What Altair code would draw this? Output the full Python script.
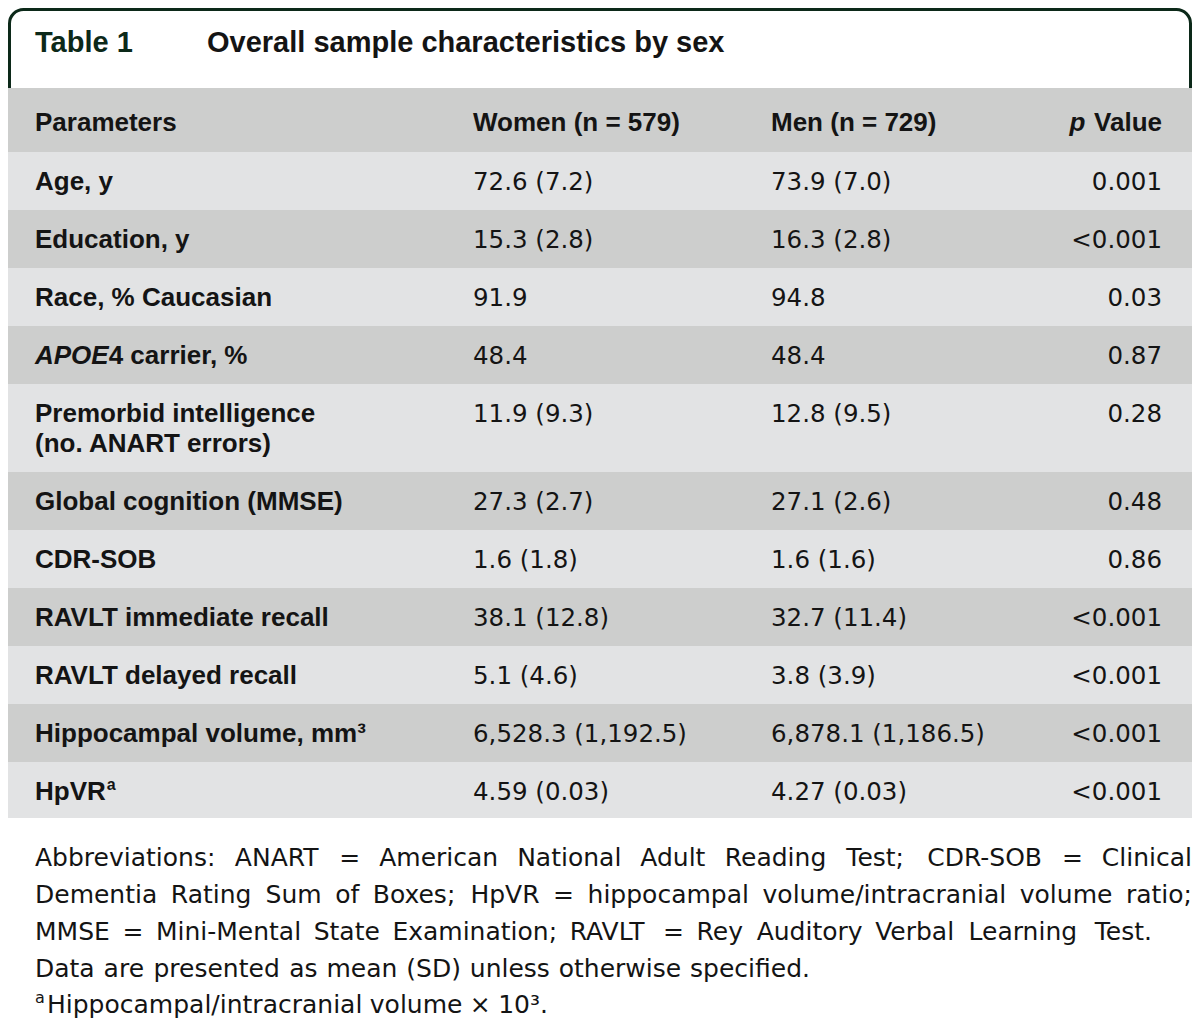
import altair as alt
import pandas as pd

# ---------------- data ----------------
title_label = "Table 1"
title_text = "Overall sample characteristics by sex"
col_headers = ["Parameters", "Women (n = 579)", "Men (n = 729)"]
p_header = ("p", " Value")

params = [
    "Age, y",
    "Education, y",
    "Race, % Caucasian",
    "APOE4 carrier, %",
    "Premorbid intelligence\n(no. ANART errors)",
    "Global cognition (MMSE)",
    "CDR-SOB",
    "RAVLT immediate recall",
    "RAVLT delayed recall",
    "Hippocampal volume, mm³",
    "HpVR",
]
italic_prefix = {3: "APOE"}
superscript = {10: "a"}

women = ["72.6 (7.2)", "15.3 (2.8)", "91.9", "48.4", "11.9 (9.3)", "27.3 (2.7)",
         "1.6 (1.8)", "38.1 (12.8)", "5.1 (4.6)", "6,528.3 (1,192.5)", "4.59 (0.03)"]
men = ["73.9 (7.0)", "16.3 (2.8)", "94.8", "48.4", "12.8 (9.5)", "27.1 (2.6)",
       "1.6 (1.6)", "32.7 (11.4)", "3.8 (3.9)", "6,878.1 (1,186.5)", "4.27 (0.03)"]
pvals = ["0.001", "<0.001", "0.03", "0.87", "0.28", "0.48", "0.86",
         "<0.001", "<0.001", "<0.001", "<0.001"]

footnote_lines = [
    "Abbreviations: ANART = American National Adult Reading Test; CDR-SOB = Clinical",
    "Dementia Rating Sum of Boxes; HpVR = hippocampal volume/intracranial volume ratio;",
    "MMSE = Mini-Mental State Examination; RAVLT = Rey Auditory Verbal Learning Test.",
    "Data are presented as mean (SD) unless otherwise specified.",
    "Hippocampal/intracranial volume × 10³.",
]
footnote_sup = "a"

# ---------------- layout / style ----------------
# chart pixel = reference pixel - 8 (page margin), so positions line up 1:1
W, H = 1184, 1012
XS = alt.Scale(domain=[8, 8 + W], range=[0, W], nice=False, zero=False)
YS = alt.Scale(domain=[8, 8 + H], range=[0, H], nice=False, zero=False)

X_LABEL, X_WOMEN, X_MEN, X_P = 35, 473, 771, 1162
HEADER_TOP, HEADER_BOTTOM = 88, 152
ROW_H, LINE_H = 58, 30
BASE_OFF = 38
HEAD_BASE = 131
TITLE_BASE = 52
FOOT_BASES = [866, 903, 940, 977, 1013]
FOOT_RIGHT = [1192, 1192, 1152, 810, 548]
FOOT_LEFT = [35, 35, 35, 35, 47]

BOLD_FONT = "Liberation Sans"
REG_FONT = "DejaVu Sans"
TEXT_COL = "#141414"
GREEN = "#0c2919"
LIGHT = "#e2e3e4"
DARK = "#cdcecd"

LBL_SIZE = 26
VAL_SIZE = 24.5
FOOT_SIZE = 25
TITLE_SIZE = 29

ARIAL_BOLD = {'A': 722, 'P': 667, 'O': 778, 'E': 667, 'H': 722, 'p': 611, 'V': 667,
              'R': 722, ' ': 278, 'a': 556, 'l': 278, 'u': 611, 'e': 556}
DEJAVU = dict(zip("ABCDEFGHIJKLMNOPQRSTUVWXYZ",
                  [684, 686, 698, 770, 632, 575, 775, 752, 295, 295, 656, 557, 863, 748, 787,
                   603, 787, 695, 635, 611, 732, 684, 989, 685, 611, 685]))
DEJAVU.update(zip("abcdefghijklmnopqrstuvwxyz",
                  [613, 635, 550, 635, 615, 352, 635, 634, 278, 278, 579, 278, 974, 634, 612,
                   635, 635, 411, 521, 392, 634, 592, 818, 592, 592, 525]))
DEJAVU.update({d: 636 for d in "0123456789"})
DEJAVU.update({' ': 318, '.': 318, ',': 318, ':': 337, ';': 337, '(': 390, ')': 390,
               '/': 337, '-': 361, '=': 838, '×': 838, '³': 405})


def w_bold(s, size=LBL_SIZE):
    return sum(ARIAL_BOLD.get(c, 600) for c in s) * size / 1000.0


def w_reg(s, size=FOOT_SIZE):
    return sum(DEJAVU.get(c, 620) for c in s) * size / 1000.0


# rows geometry
row_rec = []
top = HEADER_BOTTOM
for i, lab in enumerate(params):
    nl = lab.count("\n") + 1
    h = ROW_H + LINE_H * (nl - 1)
    row_rec.append({"x": 0, "x2": 1200, "y": top, "y2": min(top + h, 818),
                    "fill": LIGHT if i % 2 == 0 else DARK})
    top += h
bands = pd.DataFrame([{"x": 0, "x2": 1200, "y": HEADER_TOP, "y2": HEADER_BOTTOM, "fill": DARK}] + row_rec)

lab_rows, ital_rows, sup_rows, val_rows, p_rows = [], [], [], [], []
for i, lab in enumerate(params):
    base = row_rec[i]["y"] + BASE_OFF
    if i in italic_prefix:
        pre = italic_prefix[i]
        ital_rows.append({"x": X_LABEL, "y": base, "text": pre})
        lab_rows.append({"x": X_LABEL + w_bold(pre), "y": base, "text": lab[len(pre):]})
    else:
        lab_rows.append({"x": X_LABEL, "y": base, "text": lab})
    if i in superscript:
        sup_rows.append({"x": X_LABEL + w_bold(lab) + 1, "y": base - 10, "text": superscript[i]})
    val_rows.append({"x": X_WOMEN, "y": base, "text": women[i]})
    val_rows.append({"x": X_MEN, "y": base, "text": men[i]})
    p_rows.append({"x": X_P, "y": base, "text": pvals[i]})

head_rows = [{"x": X_LABEL, "y": HEAD_BASE, "text": col_headers[0]},
             {"x": X_WOMEN, "y": HEAD_BASE, "text": col_headers[1]},
             {"x": X_MEN, "y": HEAD_BASE, "text": col_headers[2]}]

# footnote words (justified between left and right edges)
foot_words_l, foot_words_r = [], []
for k, line in enumerate(footnote_lines):
    words = line.split(" ")
    ws = [w_reg(wd) for wd in words]
    left, right = FOOT_LEFT[k], FOOT_RIGHT[k]
    gap = (right - left - sum(ws)) / max(len(words) - 1, 1)
    x = left
    for j, wd in enumerate(words):
        if j == len(words) - 1 and len(words) > 1:
            foot_words_r.append({"x": right, "y": FOOT_BASES[k], "text": wd})
        else:
            foot_words_l.append({"x": x, "y": FOOT_BASES[k], "text": wd})
        x += ws[j] + gap


def enc(c):
    return c.encode(
        x=alt.X("x:Q", scale=XS, axis=None),
        y=alt.Y("y:Q", scale=YS, axis=None),
        text="text:N",
    )


def text_layer(rows, **kw):
    base = dict(baseline="alphabetic", color=TEXT_COL)
    base.update(kw)
    return enc(alt.Chart(pd.DataFrame(rows)).mark_text(**base))


box = pd.DataFrame([{"x": 9.5, "x2": 1190.5, "y": 9.5, "y2": 110}])
box_layer = alt.Chart(box).mark_rect(
    fill="white", stroke=GREEN, strokeWidth=3,
    cornerRadiusTopLeft=14, cornerRadiusTopRight=14,
).encode(
    x=alt.X("x:Q", scale=XS, axis=None), x2="x2:Q",
    y=alt.Y("y:Q", scale=YS, axis=None), y2="y2:Q",
)

band_layer = alt.Chart(bands).mark_rect(clip=True).encode(
    x=alt.X("x:Q", scale=XS, axis=None), x2="x2:Q",
    y=alt.Y("y:Q", scale=YS, axis=None), y2="y2:Q",
    color=alt.Color("fill:N", scale=None),
)

layers = [
    box_layer,
    band_layer,
    text_layer([{"x": X_LABEL, "y": TITLE_BASE, "text": title_label}], align="left",
               font=BOLD_FONT, fontSize=TITLE_SIZE, fontWeight="bold", color=GREEN),
    text_layer([{"x": 207, "y": TITLE_BASE, "text": title_text}], align="left",
               font=BOLD_FONT, fontSize=TITLE_SIZE, fontWeight="bold"),
    text_layer(head_rows, align="left", font=BOLD_FONT, fontSize=LBL_SIZE, fontWeight="bold"),
    text_layer([{"x": X_P, "y": HEAD_BASE, "text": p_header[1]}], align="right",
               font=BOLD_FONT, fontSize=LBL_SIZE, fontWeight="bold"),
    text_layer([{"x": X_P - w_bold(p_header[1]), "y": HEAD_BASE, "text": p_header[0]}], align="right",
               font=BOLD_FONT, fontSize=LBL_SIZE, fontWeight="bold", fontStyle="italic"),
    text_layer(lab_rows, align="left", font=BOLD_FONT, fontSize=LBL_SIZE, fontWeight="bold",
               lineBreak="\n", lineHeight=LINE_H),
    text_layer(ital_rows, align="left", font=BOLD_FONT, fontSize=LBL_SIZE, fontWeight="bold",
               fontStyle="italic"),
    text_layer(sup_rows, align="left", font=BOLD_FONT, fontSize=16, fontWeight="bold"),
    text_layer(val_rows, align="left", font=REG_FONT, fontSize=VAL_SIZE),
    text_layer(p_rows, align="right", font=REG_FONT, fontSize=VAL_SIZE),
    text_layer(foot_words_l, align="left", font=REG_FONT, fontSize=FOOT_SIZE),
    text_layer(foot_words_r, align="right", font=REG_FONT, fontSize=FOOT_SIZE),
    text_layer([{"x": X_LABEL, "y": FOOT_BASES[4] - 10, "text": footnote_sup}], align="left",
               font=REG_FONT, fontSize=16),
]

chart = alt.layer(*layers).properties(
    width=W, height=H, padding=0, background="white",
    autosize=alt.AutoSizeParams(type="none"),
).configure_view(stroke=None)

chart.save("out.html", embed_options={"renderer": "svg", "actions": False})
